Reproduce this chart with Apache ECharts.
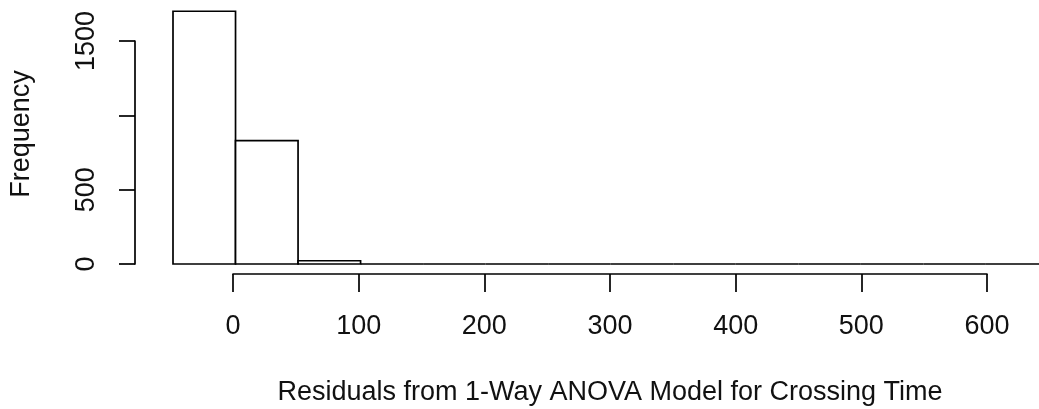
<!DOCTYPE html>
<html><head><meta charset="utf-8">
<script src="https://cdn.jsdelivr.net/npm/echarts@6/dist/echarts.min.js"></script>
<style>html,body{margin:0;padding:0;background:#fff}#c{width:1039px;height:409px}</style>
</head><body><div id="c"></div>
<script>
const binStarts = [-50, 0, 50, 100, 150, 200, 250, 300, 350, 400, 450, 500, 550, 600];
const binEnds   = [0, 50, 100, 150, 200, 250, 300, 350, 400, 450, 500, 550, 600, 650];
const counts    = [1700, 830, 22, 0, 0, 0, 0, 0, 0, 0, 0, 0, 0, 0];
const xTicks = [0, 100, 200, 300, 400, 500, 600];
const yTicks = [0, 500, 1000, 1500];
const yTickLabels = ['0', '500', '', '1500'];
const xTitle = 'Residuals from 1-Way ANOVA Model for Crossing Time';
const yTitle = 'Frequency';

const FONT = '"Liberation Sans", Arial, sans-serif';
const TXT = '#111';
const LW = 1.7;
const data = binStarts.map((s, i) => [s, binEnds[i], counts[i]]);

const chart = echarts.init(document.getElementById('c'), null, {renderer: 'canvas'});
const hidden = {show: false};
chart.setOption({
  animation: false,
  backgroundColor: '#fff',
  grid: [
    {left: 168.8, top: 3.83, width: 870.2, height: 260.17, containLabel: false},
    {left: 233, top: 273, width: 754, height: 1, containLabel: false},
    {left: 135, top: 41, width: 10, height: 223, containLabel: false}
  ],
  xAxis: [
    {gridIndex: 0, type: 'value', min: -50, max: 642.5, axisLine: hidden, axisTick: hidden, axisLabel: hidden, splitLine: hidden},
    {gridIndex: 1, type: 'value', min: xTicks[0], max: xTicks[xTicks.length - 1], interval: 100,
     axisLine: {show: true, lineStyle: {color: '#000', width: LW}},
     axisTick: {show: true, length: 18, lineStyle: {color: '#000', width: LW}},
     axisLabel: {show: true, fontSize: 27, fontFamily: FONT, color: TXT, margin: 39,
       formatter: v => String(v)},
     splitLine: hidden,
     name: xTitle, nameLocation: 'middle', nameGap: 105,
     nameTextStyle: {fontSize: 27, fontFamily: FONT, color: TXT}},
    {gridIndex: 2, type: 'value', show: false}
  ],
  yAxis: [
    {gridIndex: 0, type: 'value', min: 0, max: 1750, axisLine: hidden, axisTick: hidden, axisLabel: hidden, splitLine: hidden,
     name: yTitle, nameLocation: 'middle', nameGap: 138, nameRotate: 90,
     nameTextStyle: {fontSize: 27, fontFamily: FONT, color: TXT}},
    {gridIndex: 1, type: 'value', show: false},
    {gridIndex: 2, type: 'value', min: yTicks[0], max: yTicks[yTicks.length - 1], interval: 500, position: 'left',
     axisLine: {show: true, lineStyle: {color: '#000', width: LW}},
     axisTick: {show: true, length: 16, lineStyle: {color: '#000', width: LW}},
     axisLabel: {show: true, rotate: 90, fontSize: 27, fontFamily: FONT, color: TXT, margin: 35,
       formatter: v => yTickLabels[yTicks.indexOf(v)] ?? ''},
     splitLine: hidden}
  ],
  series: [{
    type: 'custom',
    xAxisIndex: 0, yAxisIndex: 0,
    data: data,
    encode: {x: [0, 1], y: 2},
    renderItem: function (params, api) {
      const p0 = api.coord([api.value(0), api.value(2)]);
      const p1 = api.coord([api.value(1), 0]);
      return {type: 'rect',
        shape: {x: p0[0], y: p0[1], width: p1[0] - p0[0], height: p1[1] - p0[1]},
        style: {fill: '#fff', stroke: '#000', lineWidth: LW}};
    }
  }]
});
</script></body></html>
